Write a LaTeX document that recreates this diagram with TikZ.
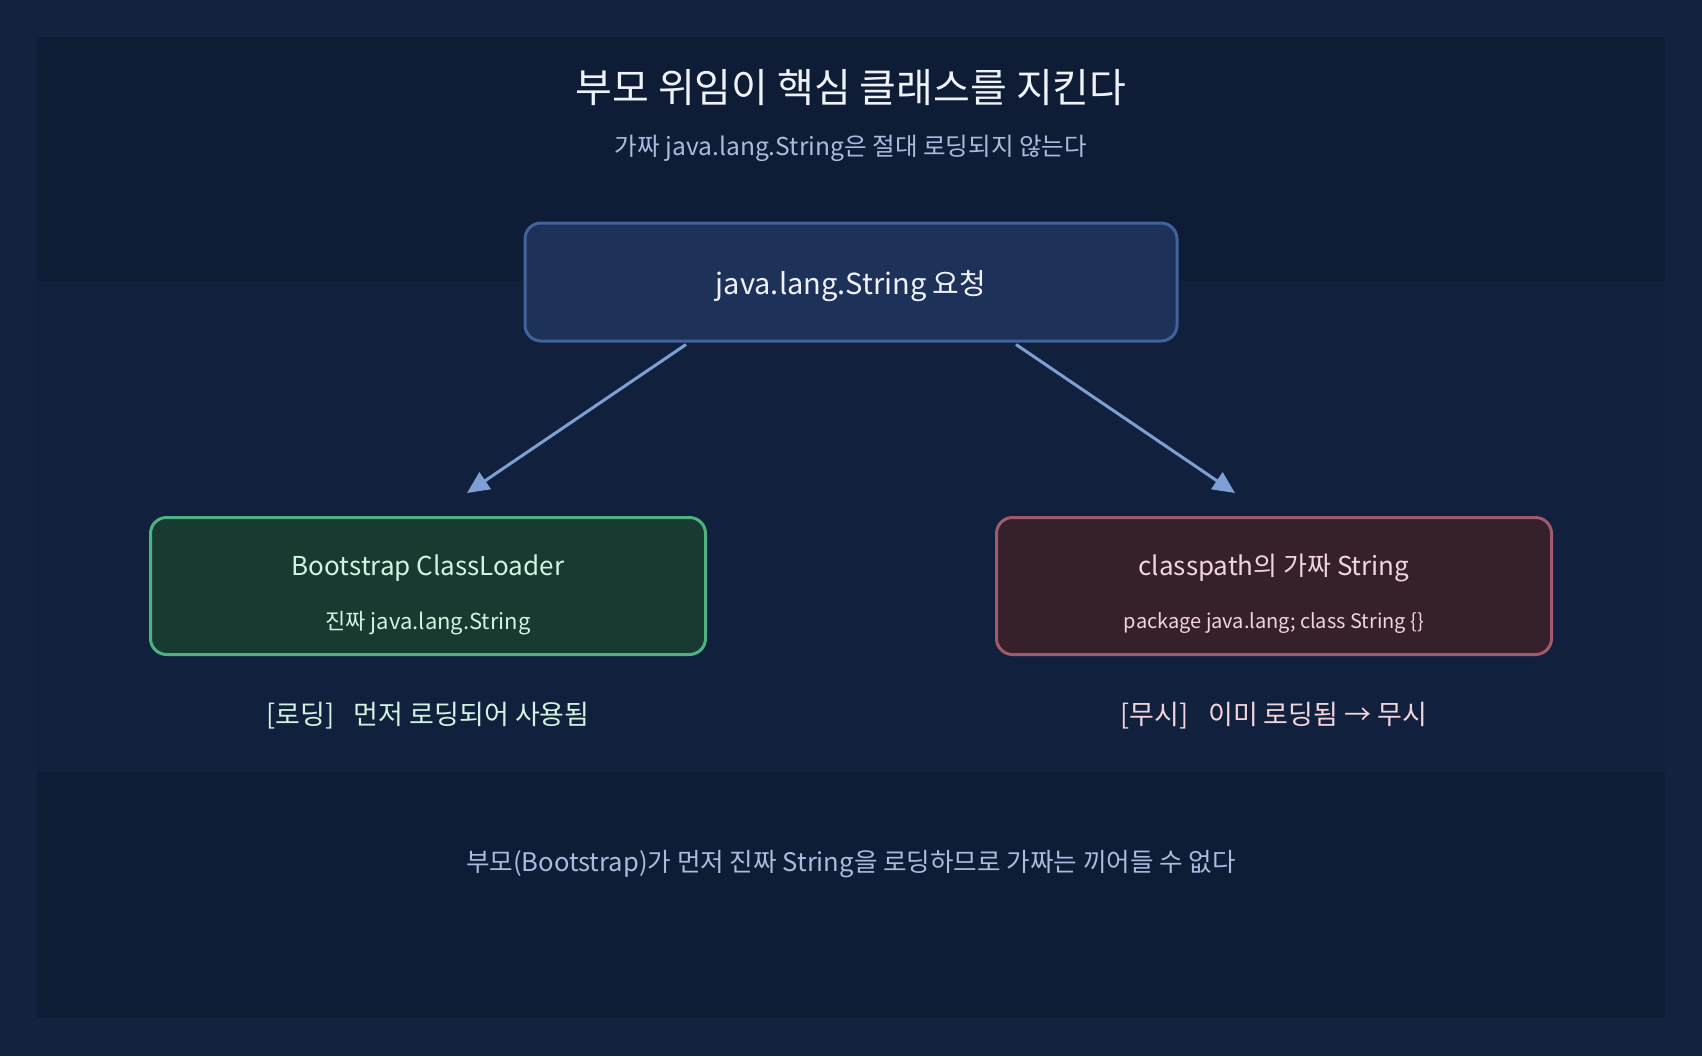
\documentclass[tikz,border=0pt]{standalone}
\usepackage{fontspec}
\setmainfont{Noto Sans CJK KR}
\usetikzlibrary{positioning, arrows.meta}
\definecolor{bgouter}{HTML}{13223F}
\definecolor{bgpanel}{HTML}{0F1C36}
\definecolor{bgband}{HTML}{11203C}
\definecolor{reqfill}{HTML}{1E3259}
\definecolor{reqline}{HTML}{41639A}
\definecolor{okfill}{HTML}{173B30}
\definecolor{okline}{HTML}{4FB283}
\definecolor{oktext}{HTML}{D2F3E1}
\definecolor{badfill}{HTML}{36202B}
\definecolor{badline}{HTML}{A05A6C}
\definecolor{badtext}{HTML}{F2D4DC}
\definecolor{flowcol}{HTML}{7D9FD3}
\definecolor{titlecol}{HTML}{EEF2FA}
\definecolor{subcol}{HTML}{A9BCDD}
\tikzset{
	x=0.5pt, y=-0.5pt, % una unidad = un pixel, y hacia abajo
	>={Triangle[length=11pt,width=10pt]}, % punta de flecha rellena
	box/.style={draw, rounded corners=8pt, line width=1.5pt,
		minimum width=277.5pt, minimum height=68.5pt}, % cajas de cargadores
	flow/.style={->, draw=flowcol, line width=1.5pt}, % flechas de delegacion
	every node/.style={inner sep=0pt}
}

\begin{document}
\begin{tikzpicture}
	\useasboundingbox (0,0) rectangle (1702,1056);
	\fill[bgouter] (0,0) rectangle (1702,1056);
	\fill[bgpanel] (37,37) rectangle (1665,1018);
	\fill[bgband] (37,281) rectangle (1665,772);

	\node[text=titlecol, font=\fontsize{20}{24}\selectfont] (title) at (851,88) {부모 위임이 핵심 클래스를 지킨다};
	\node[text=subcol, font=\fontsize{12.3}{14}\selectfont] (subtitle) at (851,148) {가짜 java.lang.String은 절대 로딩되지 않는다};

	\node[box, fill=reqfill, draw=reqline, minimum width=326pt, minimum height=59pt] (req) at (851,282) {};
	\node[text=titlecol, font=\fontsize{14.5}{17}\selectfont] (req-text) at (851,286) {java.lang.String 요청};

	\node[box, fill=okfill, draw=okline] (boot) at (428,586) {};
	\node[text=oktext, font=\fontsize{13}{15}\selectfont] (boot-name) at (428,568) {Bootstrap ClassLoader};
	\node[text=oktext, font=\fontsize{11}{13}\selectfont] (boot-note) at (428,623) {진짜 java.lang.String};

	\node[box, fill=badfill, draw=badline] (fake) at (1274,586) {};
	\node[text=badtext, font=\fontsize{13}{15}\selectfont] (fake-name) at (1274,568) {classpath의 가짜 String};
	\node[text=badtext, font=\fontsize{10}{12}\selectfont] (fake-note) at (1274,623) {package java.lang; class String \{\}};

	\node[text=oktext, font=\fontsize{13.5}{16}\selectfont] (boot-res) at (428,716) {[로딩]\enspace\ 먼저 로딩되어 사용됨};
	\node[text=badtext, font=\fontsize{13.5}{16}\selectfont] (fake-res) at (1274,716) {[무시]\enspace\ 이미 로딩됨 → 무시};

	\node[text=subcol, font=\fontsize{12.8}{15}\selectfont] (footer) at (851,864) {부모(Bootstrap)가 먼저 진짜 String을 로딩하므로 가짜는 끼어들 수 없다};

	\draw[flow] ([xshift=-82.5pt,yshift=-1pt]req.south) -- ([xshift=19.5pt,yshift=11.5pt]boot.north);
	\draw[flow] ([xshift=82.5pt,yshift=-1pt]req.south) -- ([xshift=-19.5pt,yshift=11.5pt]fake.north);
\end{tikzpicture}
\end{document}
